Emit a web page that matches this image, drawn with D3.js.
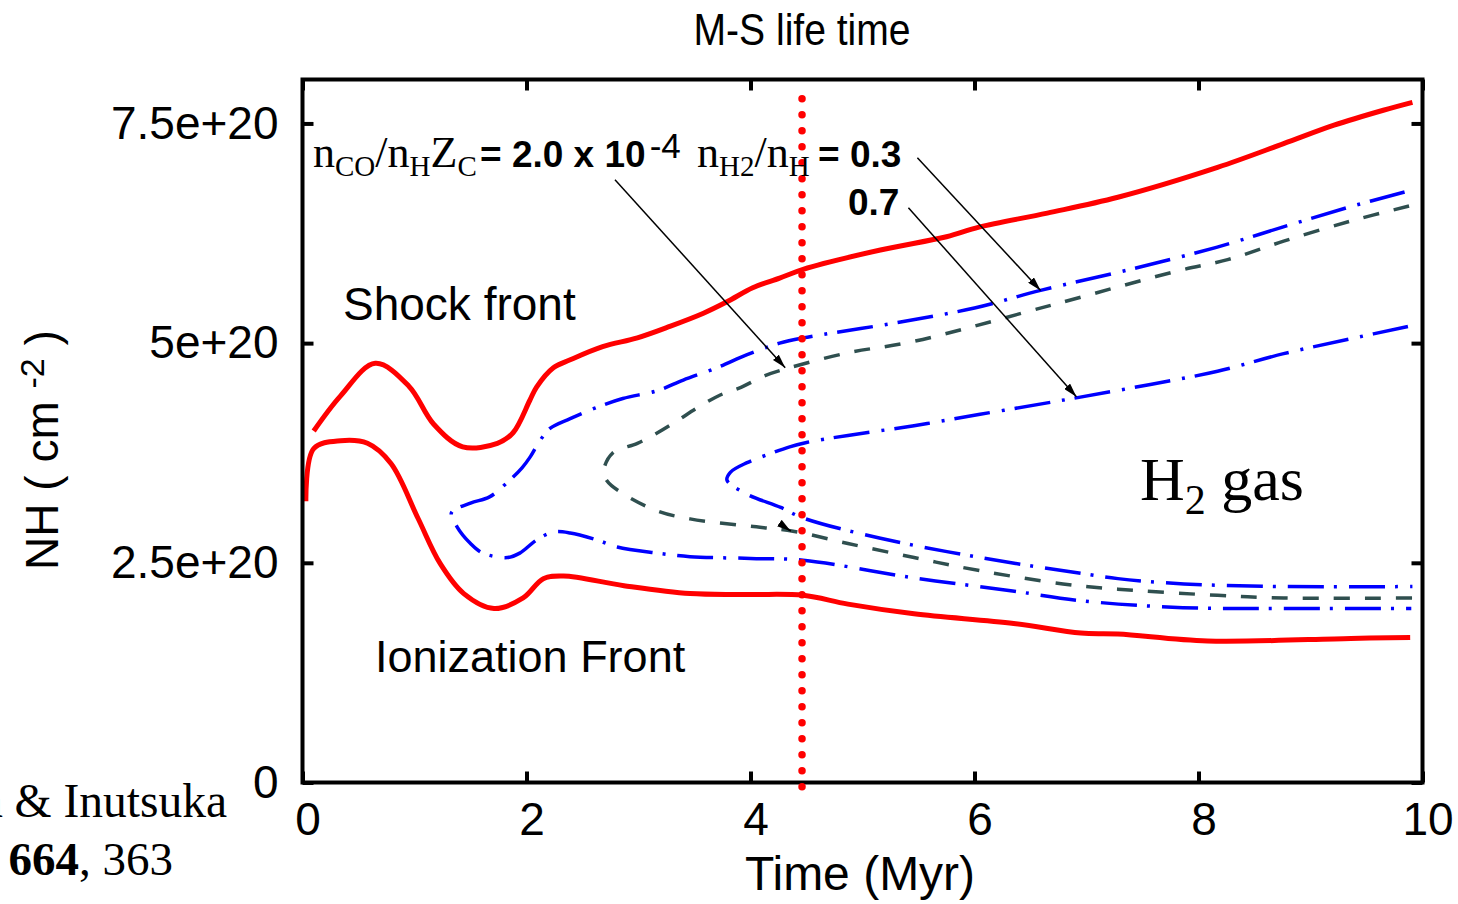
<!DOCTYPE html>
<html><head><meta charset="utf-8">
<script src="https://cdn.jsdelivr.net/npm/d3@7"></script>
<style>body{margin:0;background:#fff;} svg{display:block;background:#fff;}</style>
</head><body><svg id="chart" width="1458" height="904"></svg>
<script>
// ---- data (time in Myr, column density in 1e20 cm^-2) ----
const xTickVals = [0, 2, 4, 6, 8, 10];
const xTickLabels = ["0", "2", "4", "6", "8", "10"];
const yTickVals = [0, 2.5, 5, 7.5];
const yTickLabels = ["0", "2.5e+20", "5e+20", "7.5e+20"];

const shockT = [0.10,0.34,0.65,0.95,1.17,1.43,1.74,1.88,2.03,2.09,2.24,2.39,2.68,2.99,3.28,3.58,3.79,4.02,4.26,4.47,5.16,5.75,6.04,6.65,7.28,8.17,8.76,9.21,9.65,9.91];
const shockN = [4.00,4.40,4.77,4.51,4.08,3.82,3.86,3.98,4.35,4.50,4.72,4.81,4.96,5.06,5.19,5.34,5.47,5.63,5.74,5.84,6.06,6.21,6.32,6.48,6.66,7.00,7.27,7.48,7.65,7.74];

const ionT = [0.03,0.10,0.34,0.58,0.79,1.03,1.23,1.44,1.71,1.97,2.15,2.33,2.87,3.46,4.00,4.47,4.87,5.46,6.35,6.95,7.28,8.08,9.36,9.89];
const ionN = [3.20,3.80,3.89,3.86,3.63,3.01,2.49,2.15,1.98,2.10,2.32,2.35,2.24,2.15,2.14,2.13,2.03,1.92,1.81,1.70,1.69,1.61,1.64,1.65];

// n_H2/n_H = 0.3 : upper branch (right to left), nose, lower branch (left to right)
const h2a_T = [9.84,9.35,8.75,8.16,7.36,6.59,6.00,5.34,4.47,4.26,3.97,3.70,3.40,3.17,2.86,2.61,2.39,2.21,2.12,2.03,1.96,1.85,1.67,1.50,1.33,1.38,1.50,1.61,1.83,1.94,2.09,2.24,2.39,2.63,2.81,3.17,3.46,4.00,4.47,5.45,6.34,6.94,7.86,8.75,9.90];
const h2a_N = [6.72,6.55,6.32,6.09,5.83,5.60,5.40,5.24,5.06,5.00,4.87,4.72,4.58,4.46,4.37,4.26,4.14,4.03,3.89,3.70,3.58,3.44,3.25,3.18,3.07,2.91,2.72,2.61,2.56,2.61,2.76,2.85,2.84,2.76,2.68,2.61,2.57,2.55,2.53,2.33,2.18,2.07,1.99,1.98,1.98];

// n_H2/n_H = 0.7
const h2b_T = [9.87,9.36,8.76,8.17,7.57,6.92,6.65,6.05,5.46,4.87,4.50,4.35,4.15,3.97,3.82,3.79,3.97,4.27,4.47,5.16,6.05,6.95,7.28,7.87,8.76,9.91];
const h2b_N = [5.19,5.05,4.88,4.68,4.53,4.38,4.32,4.19,4.06,3.95,3.87,3.82,3.73,3.64,3.53,3.44,3.28,3.13,3.01,2.78,2.56,2.38,2.32,2.26,2.23,2.23];

// n_CO/n_H Z_C = 2.0e-4
const co_T = [9.88,9.36,8.76,8.26,7.81,6.68,5.46,4.87,4.35,4.13,3.92,3.73,3.52,3.35,3.17,2.99,2.77,2.69,2.72,2.87,3.17,3.46,3.97,4.38,4.87,5.46,6.05,6.79,7.28,8.17,8.76,9.91];
const co_N = [6.56,6.39,6.16,5.95,5.82,5.43,5.02,4.89,4.72,4.63,4.50,4.41,4.26,4.12,3.98,3.86,3.75,3.55,3.43,3.28,3.09,3.00,2.92,2.86,2.72,2.56,2.41,2.26,2.20,2.13,2.10,2.10];

const msLifetime = 4.46;

// annotation arrows: [fromT, fromN, toT, toN]
const arrowFromT = [2.79, 5.49, 5.41, 4.26];
const arrowFromN = [6.86, 7.11, 6.54, 2.95];
const arrowToT   = [4.31, 6.59, 6.91, 4.36];
const arrowToN   = [4.72, 5.60, 4.39, 2.86];

// ---- drawing ----
const svg = d3.select("#chart");
const x = d3.scaleLinear().domain([0, 10]).range([302.5, 1422.5]);
const y = d3.scaleLinear().domain([0, 8]).range([782.5, 79.5]);
const SANS = "'Liberation Sans', Arial, Helvetica, sans-serif";
const SERIF = "'Liberation Serif', 'Times New Roman', serif";

svg.append("rect").attr("width", 1458).attr("height", 904).attr("fill", "#fff");

const defs = svg.append("defs");
defs.append("marker").attr("id", "ah").attr("viewBox", "0 0 14 8")
  .attr("refX", 14).attr("refY", 4).attr("markerWidth", 14).attr("markerHeight", 8)
  .attr("markerUnits", "userSpaceOnUse").attr("orient", "auto")
  .append("path").attr("d", "M0,0 L14,4 L0,8 Z").attr("fill", "#000");

// axes
const gx = svg.append("g").attr("transform", `translate(0,${y(0)})`)
  .call(d3.axisBottom(x).tickValues(xTickVals).tickFormat((d, i) => xTickLabels[i]).tickSize(-11).tickPadding(20));
const gxt = svg.append("g").attr("transform", `translate(0,${y(8)})`)
  .call(d3.axisTop(x).tickValues(xTickVals).tickFormat("").tickSize(-11));
const gy = svg.append("g").attr("transform", `translate(${x(0)},0)`)
  .call(d3.axisLeft(y).tickValues(yTickVals).tickFormat((d, i) => yTickLabels[i]).tickSize(-11).tickPadding(24));
const gyr = svg.append("g").attr("transform", `translate(${x(10)},0)`)
  .call(d3.axisRight(y).tickValues(yTickVals).tickFormat("").tickSize(-11));
[gx, gxt, gy, gyr].forEach(g => {
  g.select(".domain").remove();
  g.selectAll(".tick line").attr("stroke", "#000").attr("stroke-width", 4);
  g.selectAll(".tick text").attr("font-family", SANS).attr("font-size", 46).attr("fill", "#000");
});
gx.selectAll(".tick text").attr("dx", 5);

// curves
const line = d3.line().x(d => x(d[0])).y(d => y(d[1])).curve(d3.curveCatmullRom.alpha(0.5));
const zip = (a, b) => a.map((v, i) => [v, b[i]]);

svg.append("path").attr("d", line(zip(co_T, co_N))).attr("fill", "none")
  .attr("stroke", "#2f4f4f").attr("stroke-width", 3.5).attr("stroke-dasharray", "16,15");
svg.append("path").attr("d", line(zip(h2a_T, h2a_N))).attr("fill", "none")
  .attr("stroke", "#0000ff").attr("stroke-width", 3.5).attr("stroke-dasharray", "36,10,3,12");
svg.append("path").attr("d", line(zip(h2b_T, h2b_N))).attr("fill", "none")
  .attr("stroke", "#0000ff").attr("stroke-width", 3.5).attr("stroke-dasharray", "36,10,3,12");
svg.append("path").attr("d", line(zip(shockT, shockN))).attr("fill", "none")
  .attr("stroke", "#ff0000").attr("stroke-width", 5).attr("stroke-linejoin", "round");
svg.append("path").attr("d", line(zip(ionT, ionN))).attr("fill", "none")
  .attr("stroke", "#ff0000").attr("stroke-width", 5).attr("stroke-linejoin", "round");

// frame
svg.append("rect").attr("x", x(0)).attr("y", y(8)).attr("width", x(10) - x(0)).attr("height", y(0) - y(8))
  .attr("fill", "none").attr("stroke", "#000").attr("stroke-width", 4);

// arrows
arrowFromT.forEach((t, i) => {
  svg.append("line").attr("x1", x(t)).attr("y1", y(arrowFromN[i]))
    .attr("x2", x(arrowToT[i])).attr("y2", y(arrowToN[i]))
    .attr("stroke", "#000").attr("stroke-width", 1.5).attr("marker-end", "url(#ah)");
});

// M-S lifetime dotted line
svg.append("line").attr("x1", x(msLifetime)).attr("x2", x(msLifetime))
  .attr("y1", y(7.78)).attr("y2", y(-0.06))
  .attr("stroke", "#ff0000").attr("stroke-width", 7.5).attr("stroke-linecap", "round")
  .attr("stroke-dasharray", "0,16");

// texts
svg.append("text").attr("x", x(msLifetime)).attr("y", 45).attr("text-anchor", "middle")
  .attr("font-family", "'Liberation Sans Narrow', " + SANS).attr("font-size", 45)
  .attr("textLength", 217).attr("lengthAdjust", "spacingAndGlyphs").text("M-S life time");

svg.append("text").attr("x", 860).attr("y", 890).attr("text-anchor", "middle")
  .attr("font-family", SANS).attr("font-size", 48).text("Time (Myr)");

const yt = svg.append("text").attr("transform", "translate(58,450) rotate(-90)").attr("text-anchor", "middle")
  .attr("font-family", SANS).attr("font-size", 46);
yt.append("tspan").text("NH ( cm ");
yt.append("tspan").attr("font-size", 34).attr("dy", -14).text("-2");
yt.append("tspan").attr("dy", 14).text(" )");

svg.append("text").attr("x", 343).attr("y", 320).attr("font-family", SANS).attr("font-size", 46).text("Shock front");
svg.append("text").attr("x", 375).attr("y", 672).attr("font-family", SANS).attr("font-size", 45).text("Ionization Front");

const h2 = svg.append("text").attr("x", 1140).attr("y", 500).attr("font-family", SERIF).attr("font-size", 62);
h2.append("tspan").text("H");
h2.append("tspan").attr("font-size", 42).attr("dy", 14).text("2");
h2.append("tspan").attr("dy", -14).text(" gas");

// annotation: n_CO/n_H Z_C = 2.0 x 10^-4   n_H2/n_H = 0.3
const a1 = svg.append("text").attr("x", 313).attr("y", 167).attr("font-family", SERIF).attr("font-size", 44);
a1.append("tspan").text("n");
a1.append("tspan").attr("font-size", 29).attr("dy", 9).text("CO");
a1.append("tspan").attr("dy", -9).text("/n");
a1.append("tspan").attr("font-size", 29).attr("dy", 9).text("H");
a1.append("tspan").attr("dy", -9).text("Z");
a1.append("tspan").attr("font-size", 29).attr("dy", 9).text("C");

const a1b = svg.append("text").attr("x", 480).attr("y", 167).attr("font-family", SANS).attr("font-size", 37);
a1b.append("tspan").attr("font-weight", "bold").text("= 2.0 x 10");
a1b.append("tspan").attr("dx", 4).attr("dy", -9).attr("font-size", 35).text("-4");

const a2 = svg.append("text").attr("x", 697).attr("y", 167).attr("font-family", SERIF).attr("font-size", 44);
a2.append("tspan").text("n");
a2.append("tspan").attr("font-size", 29).attr("dy", 9).text("H2");
a2.append("tspan").attr("dy", -9).text("/n");
a2.append("tspan").attr("font-size", 29).attr("dy", 9).text("H");

svg.append("text").attr("x", 818).attr("y", 167).attr("font-family", SANS).attr("font-weight", "bold")
  .attr("font-size", 37).text("= 0.3");
svg.append("text").attr("x", 848).attr("y", 215).attr("font-family", SANS).attr("font-weight", "bold")
  .attr("font-size", 37).text("0.7");

// citation (cut at left edge, as in the reference)
svg.append("text").attr("x", 227).attr("y", 817).attr("text-anchor", "end")
  .attr("font-family", SERIF).attr("font-size", 47.5).text("Hosokawa & Inutsuka");
const c2 = svg.append("text").attr("x", 173).attr("y", 875).attr("text-anchor", "end")
  .attr("font-family", SERIF).attr("font-size", 47);
c2.append("tspan").text("ApJ ");
c2.append("tspan").attr("font-weight", "bold").text("664");
c2.append("tspan").text(", 363");
</script></body></html>
